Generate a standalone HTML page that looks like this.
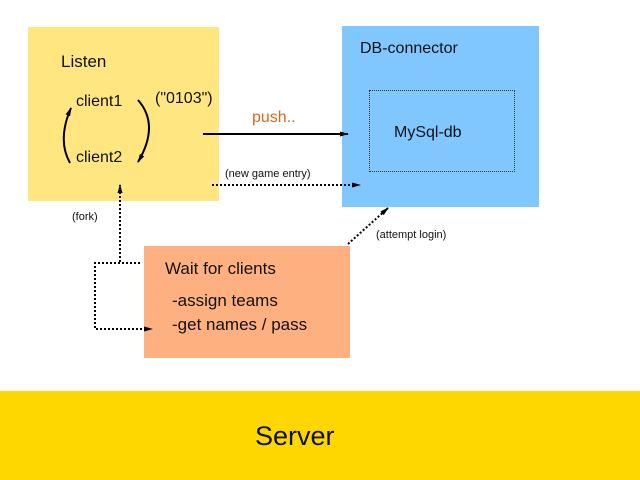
<!DOCTYPE html>
<html><head><meta charset="utf-8"><style>
html,body{margin:0;padding:0;width:640px;height:480px;background:#fff;overflow:hidden;position:relative;font-family:"Liberation Sans",sans-serif;}
.b{position:absolute}
.t{position:absolute;white-space:nowrap;color:#111}
</style></head><body>
<div class="b" style="left:28px;top:27px;width:191px;height:174px;background:#FFE680"></div>
<div class="b" style="left:342px;top:26px;width:197px;height:181px;background:#80C6FF"></div>
<div class="b" style="left:369px;top:90px;width:146px;height:82px;border:1px dotted #333;box-sizing:border-box"></div>
<div class="b" style="left:144px;top:246px;width:206px;height:112px;background:#FFB080"></div>
<div class="b" style="left:0;top:391px;width:640px;height:89px;background:#FFD700"></div>

<div class="t" style="left:61px;top:52px;font-size:17px">Listen</div>
<div class="t" style="left:76px;top:93px;font-size:16px">client1</div>
<div class="t" style="left:76px;top:149px;font-size:16px">client2</div>
<div class="t" style="left:155px;top:90px;font-size:16px">("0103")</div>
<div class="t" style="left:252px;top:109px;font-size:16px;color:#D2691E">push..</div>
<div class="t" style="left:225px;top:168px;font-size:11px">(new game entry)</div>
<div class="t" style="left:360px;top:40px;font-size:16px">DB-connector</div>
<div class="t" style="left:394px;top:124px;font-size:16px">MySql-db</div>
<div class="t" style="left:72px;top:211px;font-size:11px">(fork)</div>
<div class="t" style="left:376px;top:229px;font-size:11px">(attempt login)</div>
<div class="t" style="left:165px;top:259px;font-size:17px">Wait for clients</div>
<div class="t" style="left:172px;top:291px;font-size:17px">-assign teams</div>
<div class="t" style="left:172px;top:315px;font-size:17px">-get names / pass</div>
<div class="t" style="left:255px;top:421px;font-size:27px">Server</div>

<svg class="b" style="left:0;top:0" width="640" height="480">
<defs><marker id="a" markerUnits="userSpaceOnUse" markerWidth="9" markerHeight="5" refX="8" refY="2.5" orient="auto"><path d="M0,0L9,2.5L0,5z" fill="#000"/></marker></defs>
<g fill="none" stroke="#000" stroke-width="2">
<path d="M203,134 H348" marker-end="url(#a)"/>
<path d="M138,100 Q160,125 138,162" marker-end="url(#a)"/>
<path d="M70,163 Q57,140 71,108" marker-end="url(#a)"/>
</g>
<g fill="none" stroke="#000" stroke-width="2" stroke-dasharray="2,2">
<path d="M212,185 H360" marker-end="url(#a)"/>
<path d="M120,262 V185" marker-end="url(#a)"/>
<path d="M140,263 H95 V329 H152" marker-end="url(#a)"/>
<path d="M348,244 L388,208" marker-end="url(#a)"/>
</g>
</svg>
</body></html>
